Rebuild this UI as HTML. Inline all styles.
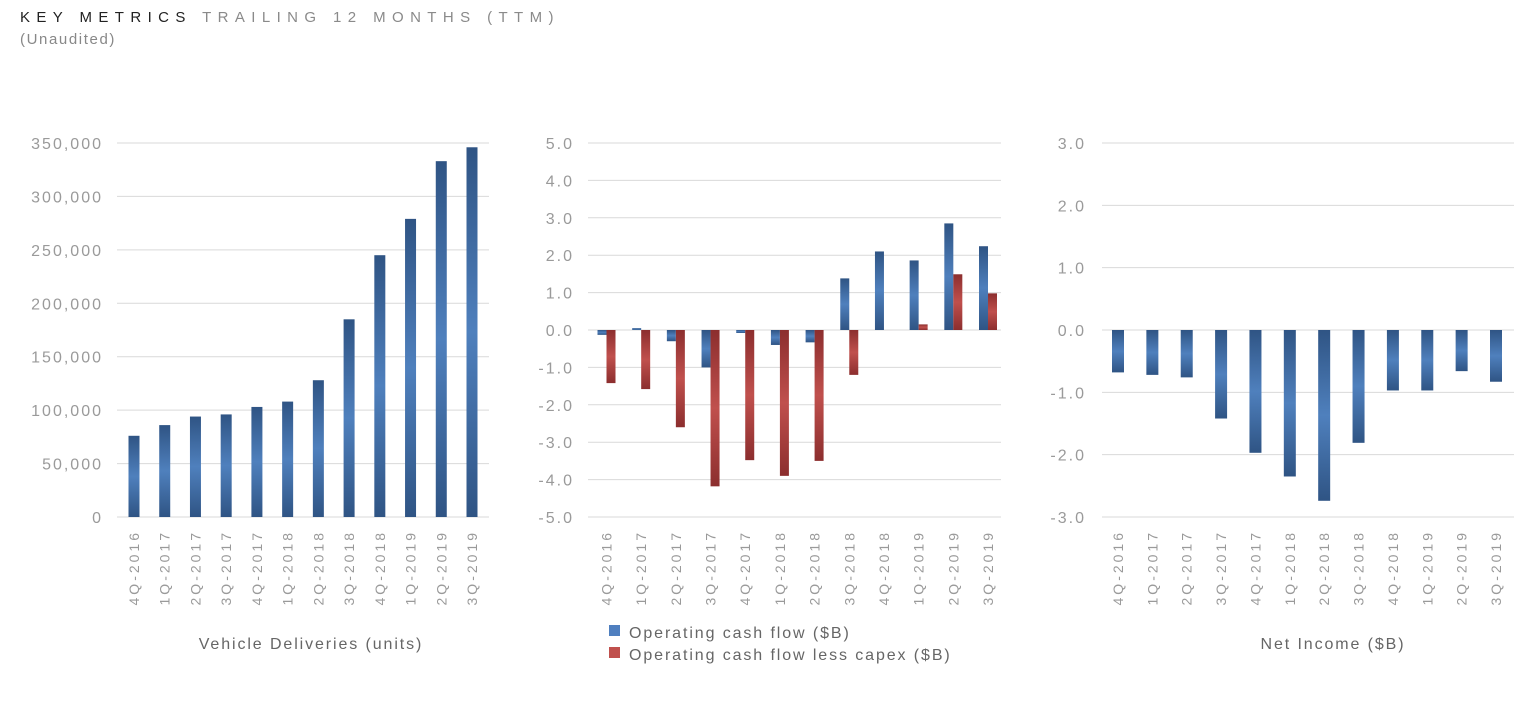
<!DOCTYPE html>
<html><head><meta charset="utf-8"><style>
html,body{margin:0;padding:0;background:#fff;width:1539px;height:706px;overflow:hidden;font-family:"Liberation Sans",sans-serif}
#title{position:absolute;left:20px;top:9px;font-size:15px;letter-spacing:6.4px;color:#222;white-space:nowrap}
#title span{color:#8a8a8a}
#sub{position:absolute;left:20px;top:31px;font-size:15px;letter-spacing:1.6px;color:#888}
svg{position:absolute;left:0;top:0}
</style></head><body>
<div id="title">KEY METRICS <span>TRAILING 12 MONTHS (TTM)</span></div>
<div id="sub">(Unaudited)</div>
<svg id="c" width="1539" height="706">
<defs>
<linearGradient id="gb" x1="0" y1="0" x2="0" y2="1"><stop offset="0" stop-color="#2f5484"/><stop offset="0.5" stop-color="#4f80bd"/><stop offset="1" stop-color="#2f5484"/></linearGradient>
<linearGradient id="gr" x1="0" y1="0" x2="0" y2="1"><stop offset="0" stop-color="#8c2e2e"/><stop offset="0.5" stop-color="#c0504d"/><stop offset="1" stop-color="#8c2e2e"/></linearGradient>
</defs>
</svg>
<script>
const categories=["4Q-2016","1Q-2017","2Q-2017","3Q-2017","4Q-2017","1Q-2018","2Q-2018","3Q-2018","4Q-2018","1Q-2019","2Q-2019","3Q-2019"];
const deliveries=[76000,86000,94000,96000,103000,108000,128000,185000,245000,279000,333000,346000];
const deliveryTicks=["0","50,000","100,000","150,000","200,000","250,000","300,000","350,000"];
const ocf=[-0.13,0.05,-0.3,-1.0,-0.08,-0.4,-0.33,1.38,2.1,1.86,2.85,2.24];
const ocfLessCapex=[-1.42,-1.58,-2.6,-4.18,-3.48,-3.9,-3.5,-1.2,0,0.15,1.49,0.98];
const cashTicks=["-5.0","-4.0","-3.0","-2.0","-1.0","0.0","1.0","2.0","3.0","4.0","5.0"];
const netIncome=[-0.68,-0.72,-0.76,-1.42,-1.97,-2.35,-2.74,-1.81,-0.97,-0.97,-0.66,-0.83];
const incomeTicks=["-3.0","-2.0","-1.0","0.0","1.0","2.0","3.0"];

const svg=document.getElementById('c');
const NS='http://www.w3.org/2000/svg';
function mk(tag,attrs,parent){const e=document.createElementNS(NS,tag);for(const k in attrs)e.setAttribute(k,attrs[k]);(parent||svg).appendChild(e);return e;}
const TOP=143,BOT=517;

function chart(o){
  const g=mk('g',{});
  
  
  const y=v=>BOT-(v-o.min)/(o.max-o.min)*(BOT-TOP);
  o.ticks.forEach((t,i)=>{
    const v=o.min+i*(o.max-o.min)/(o.ticks.length-1);
    const l=mk('line',{x1:o.gx0,x2:o.gx1,y1:y(v),y2:y(v),stroke:'#d9d9d9','stroke-width':1},g);
    
    
    const tx=mk('text',{x:o.tx,y:y(v)+6,'text-anchor':'end','font-size':16,'letter-spacing':2,fill:'#9a9a9a'},g);
    tx.textContent=t;
    
    
  });
  const xc=i=>o.c0+i*(o.c1-o.c0)/(categories.length-1);
  categories.forEach((c,i)=>{
    const t=mk('text',{x:0,y:0,'text-anchor':'end','font-size':14,'letter-spacing':3,fill:'#9a9a9a',transform:`translate(${xc(i)+5},530) rotate(-90)`},g);
    t.textContent=c;
    
    
  });
  o.series.forEach((s,si)=>{
    s.data.forEach((v,i)=>{
      const x=xc(i)+s.off-o.bw/2;
      const y0=y(0),y1=y(v);
      const r=mk('rect',{x:x,y:Math.min(y0,y1),width:o.bw,height:Math.max(Math.abs(y1-y0),0.01),fill:s.fill},g);
      
      
    });
  });
  return g;
}
chart({name:'vehicle-deliveries-chart',min:0,max:350000,ticks:deliveryTicks,gx0:117,gx1:489,tx:103,c0:134,c1:472,bw:11,series:[{key:'deliveries',data:deliveries,off:0,fill:'url(#gb)'}]});
chart({name:'cash-flow-chart',min:-5,max:5,ticks:cashTicks,gx0:588,gx1:1001,tx:574,c0:606.5,c1:988,bw:9,series:[{key:'ocf',data:ocf,off:-4.5,fill:'url(#gb)'},{key:'ocf-less-capex',data:ocfLessCapex,off:4.5,fill:'url(#gr)'}]});
chart({name:'net-income-chart',min:-3,max:3,ticks:incomeTicks,gx0:1102,gx1:1514,tx:1086,c0:1118,c1:1496,bw:12,series:[{key:'net-income',data:netIncome,off:0,fill:'url(#gb)'}]});

function txt(s,x,y,name,anchor){const t=mk('text',{x:x,y:y,'font-size':16,'letter-spacing':1.9,fill:'#666','text-anchor':anchor||'middle'});t.textContent=s;return t;}
txt('Vehicle Deliveries (units)',311,649,'x-axis-title-deliveries');
txt('Net Income ($B)',1333,649,'x-axis-title-net-income');
const l1=mk('rect',{x:609,y:625,width:11,height:11,fill:'#4f7fbf'});


const l2=mk('rect',{x:609,y:647,width:11,height:11,fill:'#c0504d'});


txt('Operating cash flow ($B)',629,638,'legend-entry-ocf','start');
txt('Operating cash flow less capex ($B)',629,660,'legend-entry-ocf-less-capex','start');
</script>
</body></html>
